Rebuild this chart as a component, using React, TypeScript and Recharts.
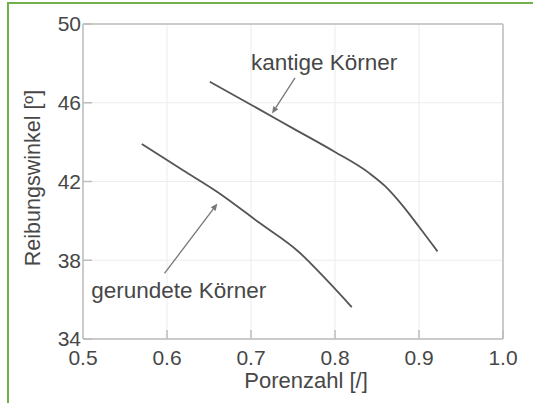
import { Line, LineChart, CartesianGrid, ReferenceDot, ReferenceLine, XAxis, YAxis } from "recharts";

const X_TICKS = [0.5, 0.6, 0.7, 0.8, 0.9, 1.0];
const Y_TICKS = [34, 38, 42, 46, 50];

const kantigePorenzahl = [0.651, 0.7, 0.75, 0.8, 0.84, 0.86, 0.88, 0.9, 0.922];
const kantigeWinkel = [47.07, 45.9, 44.7, 43.5, 42.45, 41.75, 40.8, 39.7, 38.45];

const gerundetePorenzahl = [0.57, 0.62, 0.66, 0.71, 0.757, 0.79, 0.82];
const gerundeteWinkel = [43.9, 42.55, 41.47, 39.9, 38.42, 37.0, 35.62];

const LABELS = ["kantige Körner", "gerundete Körner"];
const labelPos = [
  [0.787, 48.06],
  [0.614, 36.48],
];
const arrows = [
  [[0.7524, 47.26], [0.725, 45.45]],
  [[0.597, 37.33], [0.66, 40.88]],
];

const kantige = kantigePorenzahl.map((x, i) => ({ x, y: kantigeWinkel[i] }));
const gerundete = gerundetePorenzahl.map((x, i) => ({ x, y: gerundeteWinkel[i] }));

const TEXT = "#474747";
const FONT = "'Liberation Sans', Arial, sans-serif";
const FRAME = "#cbcbcb";

function Arrow(props: any) {
  const { x1, y1, x2, y2 } = props;
  const a = Math.atan2(y2 - y1, x2 - x1);
  const len = 7;
  const w = 3;
  const bx = x2 - len * Math.cos(a);
  const by = y2 - len * Math.sin(a);
  const px = -Math.sin(a) * w;
  const py = Math.cos(a) * w;
  return (
    <g>
      <line x1={x1} y1={y1} x2={bx} y2={by} stroke="#777" strokeWidth={1.3} />
      <polygon points={`${x2},${y2} ${bx + px},${by + py} ${bx - px},${by - py}`} fill="#777" />
    </g>
  );
}

export default function App() {
  return (
    <div style={{ position: "fixed", left: 0, top: 0, width: 533, height: 403, background: "#fff" }}>
      <div
        style={{
          position: "absolute",
          left: 7,
          top: 2,
          right: 0,
          bottom: 0,
          borderTop: "2px solid #72b04e",
          borderLeft: "2px solid #72b04e",
        }}
      />
      <LineChart
        width={533}
        height={403}
        margin={{ top: 24, right: 30, left: 0, bottom: 0 }}
        style={{ position: "absolute", left: 0, top: 0, fontFamily: FONT }}
      >
        <CartesianGrid stroke="#ececec" strokeWidth={1} />
        <XAxis
          dataKey="x"
          type="number"
          domain={[0.5, 1.0]}
          ticks={X_TICKS}
          tickFormatter={(v: number) => v.toFixed(1)}
          height={64}
          stroke={FRAME}
          strokeWidth={2}
          tickSize={-9}
          tickMargin={20}
          tick={{ fill: TEXT, fontSize: 21 }}
          tickLine={{ stroke: "#bdbdbd", strokeWidth: 1.5 }}
          allowDataOverflow
          label={{ value: "Porenzahl [/]", position: "insideBottom", offset: 15, dx: 13, fill: TEXT, fontSize: 22 }}
        />
        <YAxis
          type="number"
          domain={[34, 50]}
          ticks={Y_TICKS}
          width={83}
          stroke={FRAME}
          strokeWidth={2}
          tickSize={-9}
          tickMargin={11}
          tick={{ fill: TEXT, fontSize: 21 }}
          tickLine={{ stroke: "#bdbdbd", strokeWidth: 1.5 }}
          allowDataOverflow
          label={{ value: "Reibungswinkel [º]", angle: -90, position: "center", dx: -9.5, dy: -3.5, fill: TEXT, fontSize: 21.5 }}
        />
        <ReferenceLine x={1.0} stroke={FRAME} strokeWidth={2} />
        <ReferenceLine y={50} stroke={FRAME} strokeWidth={2} />
        <Line data={kantige} dataKey="y" type="monotone" stroke="#555" strokeWidth={1.8} dot={false} isAnimationActive={false} />
        <Line data={gerundete} dataKey="y" type="monotone" stroke="#555" strokeWidth={1.8} dot={false} isAnimationActive={false} />
        {arrows.map((seg, i) => (
          <ReferenceLine
            key={`arrow-${i}`}
            segment={[
              { x: seg[0][0], y: seg[0][1] },
              { x: seg[1][0], y: seg[1][1] },
            ]}
            shape={Arrow}
          />
        ))}
        {LABELS.map((text, i) => (
          <ReferenceDot
            key={text}
            x={labelPos[i][0]}
            y={labelPos[i][1]}
            r={0}
            fill="none"
            stroke="none"
            label={{ value: text, position: "center", fill: TEXT, fontSize: 22.5 }}
          />
        ))}
      </LineChart>
    </div>
  );
}
